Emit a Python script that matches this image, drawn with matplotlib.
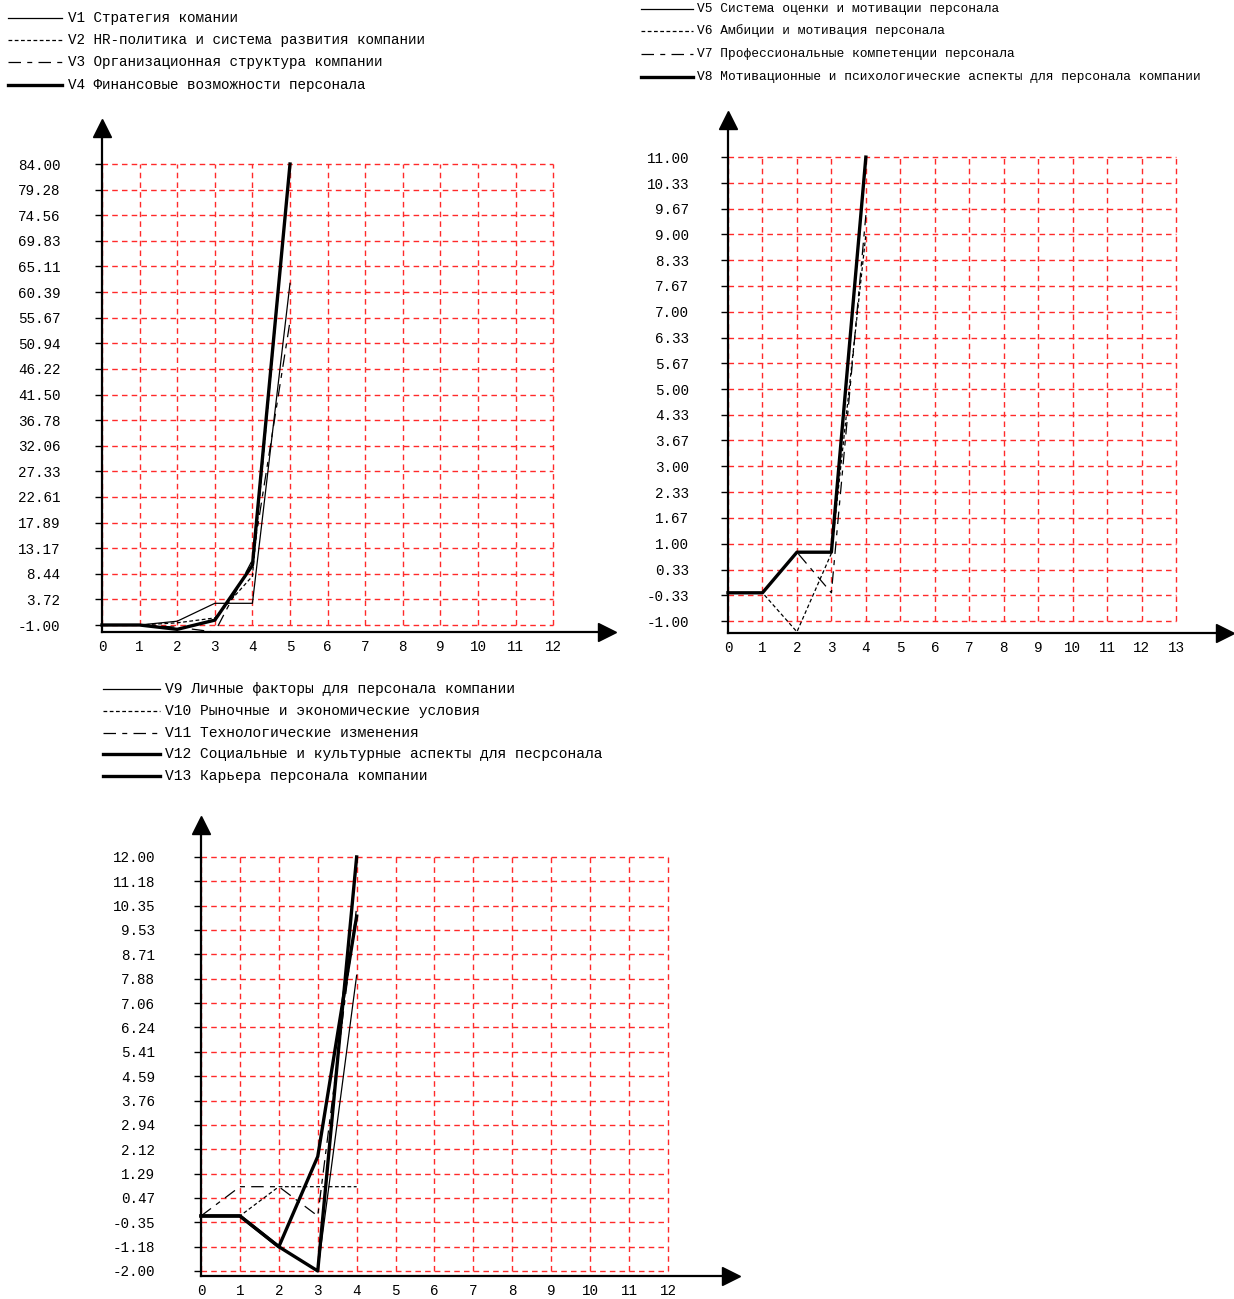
import matplotlib.pyplot as plt
from matplotlib.lines import Line2D

plt.rcParams['font.family'] = ['Liberation Mono', 'DejaVu Sans Mono']
plt.rcParams['font.size'] = 10.3

W, H = 1234, 1299

# ---- data ----
x1 = [0, 1, 2, 3, 4, 5]
v1 = [-1.0, -1.0, -0.3, 3.0, 3.0, 62.0]
v2 = [-1.0, -1.0, -0.6, 0.3, 8.0, 84.0]
v3 = [-1.0, -1.0, -1.4, -2.3, 11.0, 55.0]
v4 = [-1.0, -1.0, -1.8, -0.1, 10.0, 84.0]
y1_ticks = [-1.00, 3.72, 8.44, 13.17, 17.89, 22.61, 27.33, 32.06, 36.78, 41.50,
            46.22, 50.94, 55.67, 60.39, 65.11, 69.83, 74.56, 79.28, 84.00]
x1_ticks = list(range(13))

x2 = [0, 1, 2, 3, 4]
v5 = [-0.27, -0.27, 0.78, 0.78, 11.0]
v6 = [-0.27, -0.27, -1.28, 0.75, 9.0]
v7 = [-0.27, -0.27, 0.78, -0.27, 9.5]
v8 = [-0.27, -0.27, 0.78, 0.78, 11.0]
y2_ticks = [-1.00, -0.33, 0.33, 1.00, 1.67, 2.33, 3.00, 3.67, 4.33, 5.00,
            5.67, 6.33, 7.00, 7.67, 8.33, 9.00, 9.67, 10.33, 11.00]
x2_ticks = list(range(14))

x3 = [0, 1, 2, 3, 4]
v9 = [-0.14, -0.14, -1.18, -2.0, 8.0]
v10 = [-0.14, -0.14, 0.85, 0.85, 0.85]
v11 = [-0.14, 0.85, 0.85, -0.14, 10.3]
v12 = [-0.14, -0.14, -1.18, -2.0, 12.0]
v13 = [-0.14, -0.14, -1.18, 1.87, 10.0]
y3_ticks = [-2.00, -1.18, -0.35, 0.47, 1.29, 2.12, 2.94, 3.76, 4.59, 5.41,
            6.24, 7.06, 7.88, 8.71, 9.53, 10.35, 11.18, 12.00]
x3_ticks = list(range(13))

names1 = ["V1 Стратегия комании",
          "V2 HR-политика и система развития компании",
          "V3 Организационная структура компании",
          "V4 Финансовые возможности персонала"]
names2 = ["V5 Система оценки и мотивации персонала",
          "V6 Амбиции и мотивация персонала",
          "V7 Профессиональные компетенции персонала",
          "V8 Мотивационные и психологические аспекты для персонала компании"]
names3 = ["V9 Личные факторы для персонала компании",
          "V10 Рыночные и экономические условия",
          "V11 Технологические изменения",
          "V12 Социальные и культурные аспекты для песрсонала",
          "V13 Карьера персонала компании"]

# line styles: thin solid, dotted, dash-dot, thick
THIN = dict(color='black', lw=0.9, ls='-')
DOT = dict(color='black', lw=0.9, ls=(0, (3, 2)))
DASHDOT = dict(color='black', lw=0.9, ls=(0, (10, 5, 4, 5)))
THICK = dict(color='black', lw=2.4, ls='-')


def make_axes(fig, left, right, top, bottom):
    # pixel box -> figure fraction
    return fig.add_axes([left / W, 1 - bottom / H, (right - left) / W, (bottom - top) / H])


def draw_panel(ax, xmax, ylim, xticks, yticks, label_pad):
    ax.set_xlim(0, xmax)
    ax.set_ylim(*ylim)
    # red dashed grid only inside the data range
    for t in yticks:
        ax.plot([xticks[0], xticks[-1]], [t, t], color='#ff2a2a', lw=1, ls=(0, (4, 3)), zorder=1)
    for t in xticks:
        ax.plot([t, t], [yticks[0], yticks[-1]], color='#ff2a2a', lw=1, ls=(0, (4, 3)), zorder=1)
    for s in ['top', 'right']:
        ax.spines[s].set_visible(False)
    for s in ['left', 'bottom']:
        ax.spines[s].set_linewidth(1.6)
    ax.set_yticks(yticks)
    ax.set_yticklabels([f"{t:.2f}" for t in yticks])
    ax.set_xticks(xticks)
    ax.set_xticklabels([str(t) for t in xticks])
    ax.tick_params(axis='y', length=5, width=1, pad=label_pad)
    ax.tick_params(axis='x', length=0, pad=6)
    # arrow heads on the axes
    ax.plot([0], [1], marker='^', ms=13, color='black', transform=ax.transAxes, clip_on=False)
    ax.plot([1], [0], marker='>', ms=13, color='black', transform=ax.transAxes, clip_on=False)
    ax.patch.set_alpha(0)


def draw_legend(fig, names, styles, x0, x1, xt, ys, size):
    for name, st, y in zip(names, styles, ys):
        fig.add_artist(Line2D([x0 / W, x1 / W], [1 - y / H, 1 - y / H], **st))
        fig.text(xt / W, 1 - y / H, name, va='center', ha='left', fontsize=size)


fig = plt.figure(figsize=(W / 100, H / 100), dpi=100)

# panel 1
ax1 = make_axes(fig, 102, 607, 128, 632)
draw_panel(ax1, 13.43, (-2.29, 90.64), x1_ticks, y1_ticks, 25)
for v, st in zip([v1, v2, v3, v4], [THIN, DOT, DASHDOT, THICK]):
    ax1.plot(x1, v, clip_on=False, zorder=3, **st)
draw_legend(fig, names1, [THIN, DOT, DASHDOT, THICK], 8, 62, 68, [18, 40, 62, 85], 10.3)

# panel 2
ax2 = make_axes(fig, 728, 1225, 120, 633)
draw_panel(ax2, 14.42, (-1.31, 11.96), x2_ticks, y2_ticks, 23)
for v, st in zip([v5, v6, v7, v8], [THIN, DOT, DASHDOT, THICK]):
    ax2.plot(x2, v, clip_on=False, zorder=3, **st)
draw_legend(fig, names2, [THIN, DOT, DASHDOT, THICK], 641, 693, 697, [9, 31, 54, 77], 9.3)

# panel 3
ax3 = make_axes(fig, 201, 731, 825, 1276)
draw_panel(ax3, 13.62, (-2.17, 13.08), x3_ticks, y3_ticks, 28)
for v, st in zip([v9, v10, v11, v12, v13], [THIN, DOT, DASHDOT, THICK, THICK]):
    ax3.plot(x3, v, clip_on=False, zorder=3, **st)
draw_legend(fig, names3, [THIN, DOT, DASHDOT, THICK, THICK], 103, 160, 165,
            [689, 711, 733, 754, 776], 10.5)

plt.savefig("out.png", dpi=100)
